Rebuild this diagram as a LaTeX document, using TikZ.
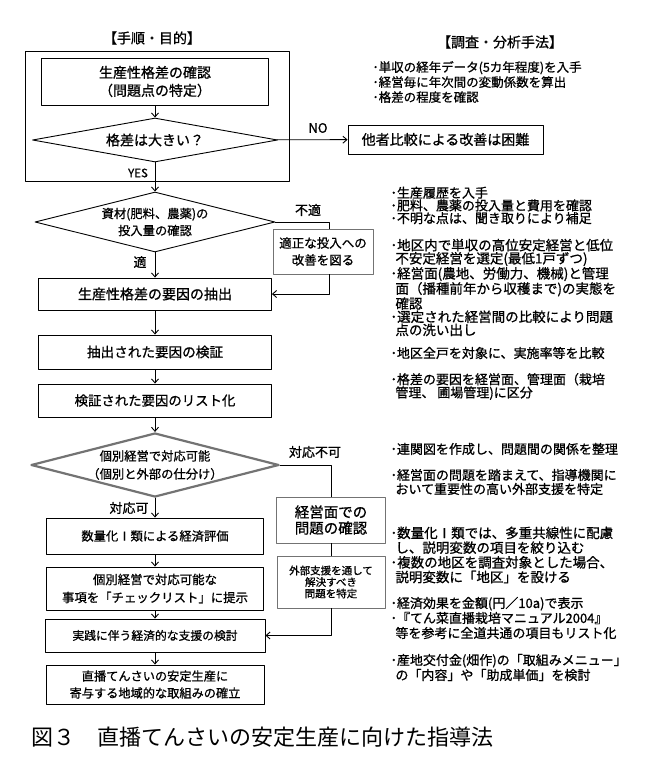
\documentclass[tikz,border=0pt]{standalone}
\usepackage{fontspec}
\setmainfont{Noto Sans CJK JP}[FakeBold=0.9]
\newfontfamily\capfont{Noto Sans CJK JP}
\usetikzlibrary{shapes.geometric,arrows.meta}
\newcommand\fsz[2]{\fontsize{#1}{#2}\selectfont}
\newcommand\ind{\hspace*{5pt}}

\begin{document}
\begin{tikzpicture}[x=1pt, y=-1pt, line join=round, line cap=round, line width=0.9pt,
	>={Straight Barb[length=4pt,width=7pt]},
	box/.style={draw, inner sep=0pt, align=center, font=\fsz{14}{18}},
	dia/.style={draw, diamond, inner sep=-3pt, align=center, font=\fsz{12.3}{17}},
	side/.style={draw=black!55, fill=white, inner sep=0pt, align=center},
	lbl/.style={inner sep=0pt, font=\fsz{13}{13}},
	memo/.style={anchor=west, align=left, inner sep=0pt, font=\fsz{13}{13.2}}]
	\def\cx{155} \def\sx{331} % left column, side column
	\useasboundingbox (0,0) rectangle (650,779);
	\node[font=\fsz{14}{14}] (t1) at (152,38) {【手順・目的】};
	\node[font=\fsz{14}{14}] (t2) at (500,42) {【調査・分析手法】};
	\draw (25,51) rectangle (289,181);
	\node[box, minimum width=227, minimum height=47] (b1) at (\cx,81.5) {生産性格差の確認\\（問題点の特定）};
	\node[dia, aspect=5.57, minimum width=245, minimum height=44, font=\fsz{14}{14}] (d1) at (\cx,140) {格差は大きい？};
	\node[box, minimum width=195, minimum height=29] (no) at (445.5,139.5) {他者比較による改善は困難};
	\node[dia, aspect=4, minimum width=240, minimum height=60] (d2) at (\cx,222) {資材(肥料、農薬)の\\投入量の確認};
	\node[side, minimum width=100, minimum height=45, font=\fsz{12.5}{17}] (s1) at (323,251.5) {適正な投入への\\改善を図る};
	\node[box, minimum width=233, minimum height=32] (b2) at (\cx,294) {生産性格差の要因の抽出};
	\node[box, minimum width=233, minimum height=34, font=\fsz{13.6}{14}] (b3) at (\cx,352) {抽出された要因の検証};
	\node[box, minimum width=233, minimum height=33, font=\fsz{13.4}{14}] (b4) at (\cx,400.5) {検証された要因のリスト化};
	\node[dia, draw=black!55, line width=2.2pt, aspect=3.9, minimum width=248, minimum height=64, font=\fsz{12.3}{18}] (d3) at (\cx,465) {個別経営で対応可能\\（個別と外部の仕分け）};
	\node[side, minimum width=109, minimum height=46, font=\fsz{14.5}{16}] (s2) at (\sx,520) {経営面での\\問題の確認};
	\node[side, minimum width=108, minimum height=52, font=\fsz{10.5}{11.5}] (s3) at (\sx,582) {外部支援を通して\\解決すべき\\問題を特定};
	\node[box, minimum width=217, minimum height=36, font=\fsz{12.3}{14}] (b5) at (\cx,536) {数量化Ⅰ類による経済評価};
	\node[box, minimum width=217, minimum height=43, font=\fsz{12.4}{18}] (b6) at (\cx,588.5) {個別経営で対応可能な\\事項を「チェックリスト」に提示};
	\node[box, minimum width=220, minimum height=33, font=\fsz{11.8}{14}] (b7) at (\cx,635.5) {実践に伴う経済的な支援の検討};
	\node[box, minimum width=218, minimum height=39, font=\fsz{12.2}{17}] (b8) at (\cx,684.5) {直播てんさいの安定生産に\\寄与する地域的な取組みの確立};
	% branch labels
	\node[lbl] (lno) at (318,128) {NO};
	\node[lbl, font=\fsz{11.5}{12}] (lyes) at (138,173) {YES};
	\node[lbl] (lng) at (308,210) {不適};
	\node[lbl] (lok) at (140,262) {適};
	\node[lbl] (lcant) at (315,452) {対応不可};
	\node[lbl] (lcan) at (129,508) {対応可};
	% connectors
	\draw[->] (b1) -- (d1);
	\draw[->] (d1) -- (no);
	\draw[->] (d1) -- (d2);
	\draw[->] (d2) -- (b2);
	\coordinate (k1) at (329,222);
	\draw (d2.east) -- (k1) -- (k1 |- s1.north);
	\draw[->] (k1 |- s1.south) |- (b2.east);
	\draw[->] (b2) -- (b3);
	\draw[->] (b3) -- (b4);
	\draw[->] (b4) -- (d3);
	\draw (d3.east) -| (s2.north);
	\draw (s2) -- (s3);
	\draw[->] (s3.south) |- (b7.east);
	\draw[->] (d3) -- (b5);
	\draw[->] (b5) -- (b6);
	\draw[->] (b6) -- (b7);
	\draw[->] (b7) -- (b8);
	% survey and analysis notes
	\node[memo, font=\fsz{12.5}{15}] (m1) at (372,82) {･単収の経年データ(5カ年程度)を入手\\･経営毎に年次間の変動係数を算出\\･格差の程度を確認};
	\node[memo, font=\fsz{13}{12.7}] (m2) at (390,205.5) {･生産履歴を入手\\･肥料、農薬の投入量と費用を確認\\･不明な点は、聞き取りにより補足};
	\node[memo, font=\fsz{13.5}{13.2}] (m3) at (390,287.5) {･地区内で単収の高位安定経営と低位\\\ind 不安定経営を選定(最低1戸ずつ)\\･経営面(農地、労働力、機械)と管理\\\ind 面（播種前年から収穫まで)の実態を\\\ind 確認\\･選定された経営間の比較により問題\\\ind 点の洗い出し};
	\node[memo] (m4) at (390,353) {･地区全戸を対象に、実施率等を比較};
	\node[memo] (m5) at (390,386.5) {･格差の要因を経営面、管理面（栽培\\\ind 管理、 圃場管理)に区分};
	\node[memo] (m6) at (390,449) {･連関図を作成し、問題間の関係を整理};
	\node[memo, font=\fsz{13}{14}] (m7) at (390,482) {･経営面の問題を踏まえて、指導機関に\\\ind おいて重要性の高い外部支援を特定};
	\node[memo, font=\fsz{13.5}{14.7}] (m8) at (390,555) {･数量化Ⅰ類では、多重共線性に配慮\\\ind し、説明変数の項目を絞り込む\\･複数の地区を調査対象とした場合、\\\ind 説明変数に「地区」を設ける};
	\node[memo, font=\fsz{13}{15}] (m9) at (390,618) {･経済効果を金額(円／10a)で表示\\･『てん菜直播栽培マニュアル2004』\\\ind 等を参考に全道共通の項目もリスト化};
	\node[memo, font=\fsz{13}{15}] (m10) at (390,667.5) {･産地交付金(畑作)の「取組みメニュー」\\\ind の「内容」や「助成単価」を検討};
	\node[font=\capfont\fsz{22}{22}] (cap) at (262,737) {図３　直播てんさいの安定生産に向けた指導法};
\end{tikzpicture}
\end{document}
